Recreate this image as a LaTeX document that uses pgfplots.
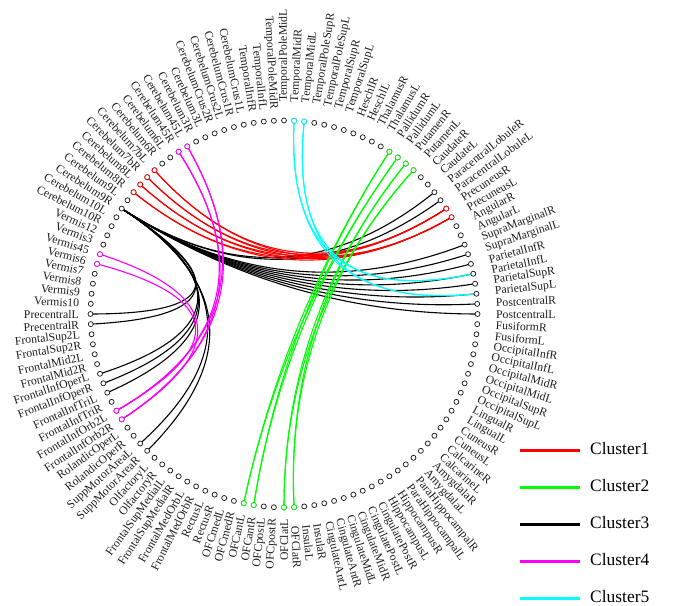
\documentclass[border=0pt]{standalone}
\usepackage{fontspec}
\setmainfont{Liberation Serif}
\usepackage{pgfplots}
\usepackage{pgfplotstable}
\pgfplotsset{compat=1.18}
\definecolor{cRed}{RGB}{255,0,0}
\definecolor{cGreen}{RGB}{0,255,0}
\definecolor{cBlack}{RGB}{0,0,0}
\definecolor{cMag}{RGB}{255,0,255}
\definecolor{cCyan}{RGB}{0,255,255}
\definecolor{cNode}{RGB}{30,30,30}

% all 120 node indices (clockwise from ThalamusR)
\pgfplotstableread[row sep=\\]{i\\1\\2\\3\\4\\5\\6\\7\\8\\9\\10\\%
11\\12\\13\\14\\15\\16\\17\\18\\19\\20\\21\\22\\23\\24\\25\\26\\27\\28\\29\\30\\%
31\\32\\33\\34\\35\\36\\37\\38\\39\\40\\41\\42\\43\\44\\45\\46\\47\\48\\49\\50\\%
51\\52\\53\\54\\55\\56\\57\\58\\59\\60\\61\\62\\63\\64\\65\\66\\67\\68\\69\\70\\%
71\\72\\73\\74\\75\\76\\77\\78\\79\\80\\81\\82\\83\\84\\85\\86\\87\\88\\89\\90\\%
91\\92\\93\\94\\95\\96\\97\\98\\99\\100\\101\\102\\103\\104\\105\\106\\107\\108\\109\\110\\%
111\\112\\113\\114\\115\\116\\117\\118\\119\\120\\}\alltable
\pgfplotstableread[row sep=\\]{i\\95\\96\\97\\98\\11\\12\\}\redtable
\pgfplotstableread[row sep=\\]{i\\3\\4\\5\\6\\51\\52\\55\\56\\}\greentable
\pgfplotstableread[row sep=\\]{i\\71\\72\\87\\88\\101\\102\\}\magtable
\pgfplotstableread[row sep=\\]{i\\113\\114\\}\cyantable

% edges (node index pairs)
\def\edgesRed{95/11,95/12,96/11,96/12,97/11,97/12,98/11,98/12}
\def\edgesGreen{56/3,56/4,55/3,55/4,52/5,52/6,51/5,51/6}
\def\edgesBlack{93/9,93/10,93/15,93/16,93/17,93/18,93/19,93/20,93/21,93/22,93/82,93/81,93/76,93/75,93/74,93/68,93/67}
\def\edgesMag{101/71,101/72,102/71,102/72,87/72,88/71}
\def\edgesCyan{113/18,113/20,114/18,114/20}

\def\R{193.5}
\newcommand\chord[3]{%
  \pgfmathsetmacro\ax{\R*cos(426-3*#2)}%
  \pgfmathsetmacro\ay{\R*sin(426-3*#2)}%
  \pgfmathsetmacro\bx{\R*cos(426-3*#3)}%
  \pgfmathsetmacro\by{\R*sin(426-3*#3)}%
  \pgfmathsetmacro\cax{\ax/3}\pgfmathsetmacro\cay{\ay/3}%
  \pgfmathsetmacro\cbx{\bx/3}\pgfmathsetmacro\cby{\by/3}%
  \edef\tmp{\noexpand\draw[#1, line width=1.1bp] (axis cs:\ax,\ay) .. controls (axis cs:\cax,\cay) and (axis cs:\cbx,\cby) .. (axis cs:\bx,\by);}%
  \tmp}
\newcommand\lab{\fontsize{11.8}{14}\selectfont}
\newcommand\legfont{\fontsize{17.5}{20}\selectfont}

\begin{document}
\begin{tikzpicture}
\begin{axis}[
  x=1bp, y=1bp,
  xmin=-284, xmax=396, ymin=-292, ymax=314,
  hide axis, clip=false, enlargelimits=false,
  nodestyle/.style={only marks, mark=*, mark size=2.5bp, mark options={draw=#1, fill=white, line width=0.75bp}},
]
% chords
\foreach \a/\b in \edgesBlack {\chord{cBlack}{\a}{\b}}
\foreach \a/\b in \edgesRed {\chord{cRed}{\a}{\b}}
\foreach \a/\b in \edgesGreen {\chord{cGreen}{\a}{\b}}
\foreach \a/\b in \edgesMag {\chord{cMag}{\a}{\b}}
\foreach \a/\b in \edgesCyan {\chord{cCyan}{\a}{\b}}
% nodes
\addplot[nodestyle=cNode] table[x=i, y=i, x expr={\R*cos(426-3*\thisrow{i})}, y expr={\R*sin(426-3*\thisrow{i})}] {\alltable};
\addplot[nodestyle=cRed] table[x=i, y=i, x expr={\R*cos(426-3*\thisrow{i})}, y expr={\R*sin(426-3*\thisrow{i})}] {\redtable};
\addplot[nodestyle=cGreen] table[x=i, y=i, x expr={\R*cos(426-3*\thisrow{i})}, y expr={\R*sin(426-3*\thisrow{i})}] {\greentable};
\addplot[nodestyle=cMag] table[x=i, y=i, x expr={\R*cos(426-3*\thisrow{i})}, y expr={\R*sin(426-3*\thisrow{i})}] {\magtable};
\addplot[nodestyle=cCyan] table[x=i, y=i, x expr={\R*cos(426-3*\thisrow{i})}, y expr={\R*sin(426-3*\thisrow{i})}] {\cyantable};
% labels
\foreach \i/\nm in {1/ThalamusR,2/ThalamusL,3/PallidumR,4/PallidumL,5/PutamenR,6/PutamenL,7/CaudateR,8/CaudateL,9/ParacentralLobuleR,10/ParacentralLobuleL,11/PrecuneusR,12/PrecuneusL,13/AngularR,14/AngularL,15/SupraMarginalR,16/SupraMarginalL,17/ParietalInfR,18/ParietalInfL,19/ParietalSupR,20/ParietalSupL,21/PostcentralR,22/PostcentralL,23/FusiformR,24/FusiformL,25/OccipitalInfR,26/OccipitalInfL,27/OccipitalMidR,28/OccipitalMidL,29/OccipitalSupR,30/OccipitalSupL,31/LingualR,32/LingualL,33/CuneusR,34/CuneusL,35/CalcarineR,36/CalcarineL,37/AmygdalaR,38/AmygdalaL,39/ParaHippocampalR,40/ParaHippocampalL,41/HippocampusR,42/HippocampusL,43/CingulatePostR,44/CingulatePostL,45/CingulateMidR,46/CingulateMidL,47/CingulateAntR,48/CingulateAntL,49/InsulaR,50/InsulaL,51/OFClatR,52/OFClatL,53/OFCpostR,54/OFCpostL,55/OFCantR,56/OFCantL,57/OFCmedR,58/OFCmedL,59/RectusR,60/RectusL,61/FrontalMedOrbR,62/FrontalMedOrbL,63/FrontalSupMedialR,64/FrontalSupMedialL,65/OlfactoryR,66/OlfactoryL,67/SuppMotorAreaR,68/SuppMotorAreaL,69/RolandicOperR,70/RolandicOperL,71/FrontalInfOrb2R,72/FrontalInfOrb2L,73/FrontalInfTriR,74/FrontalInfTriL,75/FrontalInfOperR,76/FrontalInfOperL,77/FrontalMid2R,78/FrontalMid2L,79/FrontalSup2R,80/FrontalSup2L,81/PrecentralR,82/PrecentralL,83/Vermis10,84/Vermis9,85/Vermis8,86/Vermis7,87/Vermis6,88/Vermis45,89/Vermis3,90/Vermis12,91/Cerebelum10R,92/Cerebelum10L,93/Cerebelum9R,94/Cerebelum9L,95/Cerebelum8R,96/Cerebelum8L,97/Cerebelum7bR,98/Cerebelum7bL,99/Cerebelum6R,100/Cerebelum6L,101/Cerebelum45R,102/Cerebelum45L,103/Cerebelum3R,104/Cerebelum3L,105/CerebelumCrus2R,106/CerebelumCrus2L,107/CerebelumCrus1R,108/CerebelumCrus1L,109/TemporalInfR,110/TemporalInfL,111/TemporalPoleMidR,112/TemporalPoleMidL,113/TemporalMidR,114/TemporalMidL,115/TemporalPoleSupR,116/TemporalPoleSupL,117/TemporalSupR,118/TemporalSupL,119/HeschlR,120/HeschlL} {
  \pgfmathsetmacro\ang{mod(426-3*\i,360)}
  \pgfmathtruncatemacro\isleft{(\ang>90)&&(\ang<=270)}
  \ifnum\isleft=1
    \pgfmathsetmacro\lx{205*cos(\ang)}\pgfmathsetmacro\ly{205*sin(\ang)}\pgfmathsetmacro\rot{\ang-180}
    \edef\tmp{\noexpand\node[anchor=east, rotate=\rot, inner sep=0pt, text=cNode, font=\noexpand\lab] at (axis cs:\lx,\ly) {\nm};}
  \else
    \pgfmathsetmacro\lx{212*cos(\ang)}\pgfmathsetmacro\ly{212*sin(\ang)}
    \edef\tmp{\noexpand\node[anchor=west, rotate=\ang, inner sep=0pt, text=cNode, font=\noexpand\lab] at (axis cs:\lx,\ly) {\nm};}
  \fi
  \tmp
}
% legend
\addplot[cRed, line width=3bp] coordinates {(236,-137) (296,-137)};
\addplot[cGreen, line width=3bp] coordinates {(236,-174) (296,-174)};
\addplot[cBlack, line width=3bp] coordinates {(236,-211) (296,-211)};
\addplot[cMag, line width=3bp] coordinates {(236,-248) (296,-248)};
\addplot[cCyan, line width=3bp] coordinates {(236,-285) (296,-285)};
\node[anchor=west, inner sep=0pt, font=\legfont] at (axis cs:306,-135) {Cluster1};
\node[anchor=west, inner sep=0pt, font=\legfont] at (axis cs:306,-172) {Cluster2};
\node[anchor=west, inner sep=0pt, font=\legfont] at (axis cs:306,-209) {Cluster3};
\node[anchor=west, inner sep=0pt, font=\legfont] at (axis cs:306,-246) {Cluster4};
\node[anchor=west, inner sep=0pt, font=\legfont] at (axis cs:306,-283) {Cluster5};
\end{axis}
\pgfresetboundingbox
\path (current axis.south west) rectangle (current axis.north east);
\end{tikzpicture}
\end{document}
